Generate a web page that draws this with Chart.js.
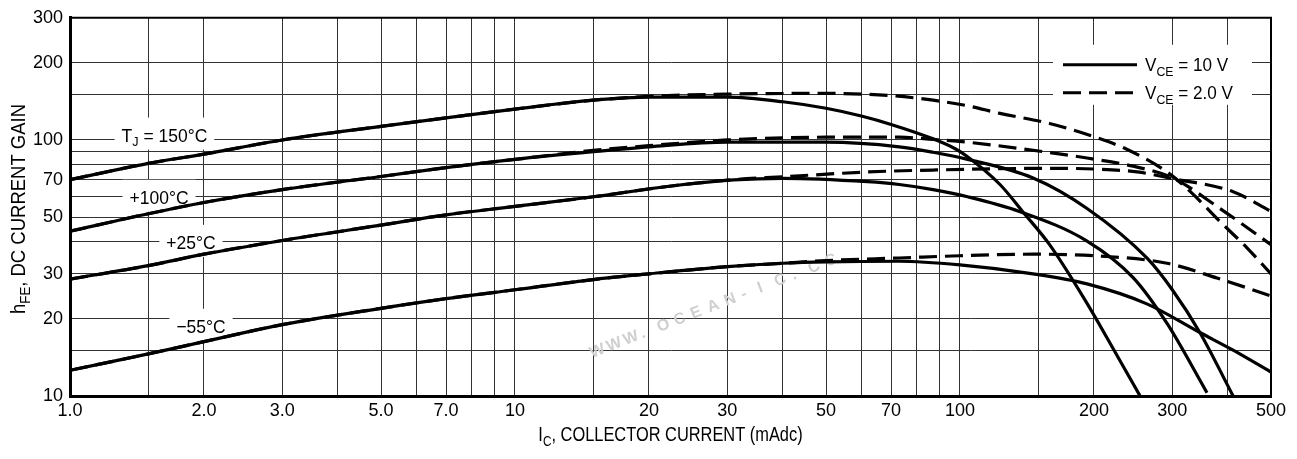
<!DOCTYPE html>
<html>
<head>
<meta charset="utf-8">
<script src="https://cdn.jsdelivr.net/npm/chart.js@4.4.1/dist/chart.umd.min.js"></script>
<style>
  html, body { margin: 0; padding: 0; background: #fff; }
  #wrap { width: 1297px; height: 459px; }
</style>
</head>
<body>
<div id="wrap"><canvas id="chart" width="1297" height="459"></canvas></div>
<script>
// DC current gain vs collector current, solid = VCE 10 V, dashed = VCE 2.0 V

// grid values and which ones carry a number
const icGrid = [1, 1.5, 2, 3, 4, 5, 6, 7, 8, 9, 10, 15, 20, 30, 40, 50, 60, 70, 80, 90, 100, 150, 200, 300, 400, 500];
const icTickValues = [1, 2, 3, 5, 7, 10, 20, 30, 50, 70, 100, 200, 300, 500];
const icTickLabels = ['1.0', '2.0', '3.0', '5.0', '7.0', '10', '20', '30', '50', '70', '100', '200', '300', '500'];
const hfeGrid = [10, 15, 20, 30, 40, 50, 60, 70, 80, 90, 100, 150, 200, 300];
const hfeTickValues = [10, 20, 30, 50, 70, 100, 200, 300];

// TJ = 150 C
const ic150_10V = [1, 1.5, 2, 3, 5, 7, 10, 15, 20, 30, 40, 50, 60, 70, 87, 98, 104, 123, 139, 159, 193, 220, 254];
const hfe150_10V = [70, 81, 88, 100, 113, 122, 132, 143, 147, 147, 141, 133, 124, 115, 101, 92, 86, 67, 52, 39, 23, 15.5, 10];
const ic150_2V = [1, 1.5, 2, 3, 5, 7, 10, 15, 20, 30, 50, 70, 87, 104, 123, 159, 200, 237, 292, 329, 384, 441, 500];
const hfe150_2V = [70, 81, 88, 100, 113, 122, 132, 143, 148, 151, 152, 149, 143, 136, 127, 116, 103, 92, 75, 63, 48, 38, 30];

// TJ = +100 C
const ic100_10V = [1, 1.5, 2, 3, 5, 7, 10, 15, 20, 30, 50, 73, 87, 104, 146, 193, 263, 300, 346, 411];
const hfe100_10V = [44, 51.5, 57, 64, 72, 78, 84, 90, 94, 98, 98, 94, 89.5, 84, 71, 54, 34.6, 26, 17.7, 10];
const ic100_2V = [1, 1.5, 2, 3, 5, 7, 10, 15, 20, 30, 50, 73, 87, 104, 154, 193, 245, 301, 384, 500];
const hfe100_2V = [44, 51.5, 57, 64, 72, 78, 84, 91, 95, 100, 102.5, 102.5, 100.5, 98, 90, 85, 79, 71, 54, 39];

// TJ = +25 C
const ic25_10V = [1, 1.5, 2, 3, 5, 7, 10, 15, 22, 31, 40, 62, 73, 87, 104, 136, 193, 245, 292, 359];
const hfe25_10V = [28.6, 32.3, 35.8, 40.5, 46.5, 51, 55, 60, 65.8, 69.8, 70.8, 68.7, 67, 64, 60, 52.6, 40.3, 29, 19.2, 10.3];
const ic25_2V = [1, 1.5, 2, 3, 5, 7, 10, 15, 22, 31, 40, 62, 87, 159, 200, 250, 301, 411, 500];
const hfe25_2V = [28.6, 32.3, 35.8, 40.5, 46.5, 51, 55, 60, 65.8, 70, 71.8, 75, 76.3, 77.5, 77, 75, 70.6, 62.8, 52.6];

// TJ = -55 C
const icM55_10V = [1, 1.5, 2, 3, 5, 7, 10, 15, 20, 30, 40, 50, 73, 100, 146, 193, 263, 346, 411, 500];
const hfeM55_10V = [12.6, 14.6, 16.3, 19, 22, 24, 26, 28.5, 30, 32, 33, 33.4, 33.6, 32.5, 30, 27.4, 22.9, 17.7, 15.1, 12.4];
const icM55_2V = [1, 1.5, 2, 3, 5, 7, 10, 15, 20, 30, 40, 50, 73, 100, 146, 206, 292, 378, 500];
const hfeM55_2V = [12.6, 14.6, 16.3, 19, 22, 24, 26, 28.5, 30, 32, 33, 33.8, 34.6, 35.3, 35.8, 35.2, 33, 28.9, 24.6];

// curve labels: text parts ([text, isSubscript]) and where they sit in data units
const curveLabels = [
    { parts: [['T'], ['J', 1], [' = 150°C']], ic: 1.63, hfe: 105 },
    { parts: [['+100°C']], ic: 1.585, hfe: 60 },
    { parts: [['+25°C']], ic: 1.87, hfe: 40 },
    { parts: [['\u221255°C']], ic: 1.97, hfe: 18.8 }
];
const legendLabels = [
    [['V'], ['CE', 1], [' = 10 V']],
    [['V'], ['CE', 1], [' = 2.0 V']]
];
const xTitle = [['I'], ['C', 1], [', COLLECTOR CURRENT (mAdc)']];
const yTitle = [['h'], ['FE', 1], [', DC CURRENT GAIN']];

const FONT = "'Liberation Sans', Arial, Helvetica, sans-serif";
const DASH = [18, 8];

function curve(label, ic, hfe, dashed) {
    return {
        label: label,
        data: ic.map((v, i) => ({ x: v, y: hfe[i] })),
        borderColor: '#000',
        borderWidth: 3.2,
        borderDash: dashed ? DASH : [],
        pointRadius: 0,
        fill: false,
        cubicInterpolationMode: 'monotone'
    };
}

// text with subscripts, squeezed horizontally by sx
function richWidth(ctx, parts, size, sx) {
    let w = 0;
    parts.forEach(([t, sub]) => {
        ctx.font = (sub ? size * 0.72 : size) + 'px ' + FONT;
        w += ctx.measureText(t).width * sx;
    });
    return w;
}

function drawRich(ctx, parts, x, baseline, size, sx) {
    let cx = x;
    parts.forEach(([t, sub]) => {
        const s = sub ? size * 0.72 : size;
        ctx.font = s + 'px ' + FONT;
        ctx.save();
        ctx.translate(cx, baseline + (sub ? size * 0.26 : 0));
        ctx.scale(sx, 1);
        ctx.fillText(t, 0, 0);
        ctx.restore();
        cx += ctx.measureText(t).width * sx;
    });
}

const decorations = {
    id: 'decorations',
    beforeDatasetsDraw(chart) {
        const { ctx, chartArea: a, scales: { x, y } } = chart;
        ctx.save();

        // top and right frame
        ctx.strokeStyle = '#000';
        ctx.lineWidth = 2;
        ctx.beginPath();
        ctx.moveTo(a.left, a.top);
        ctx.lineTo(a.right, a.top);
        ctx.lineTo(a.right, a.bottom);
        ctx.stroke();

        // faint site watermark
        ctx.save();
        ctx.fillStyle = '#cfcfcf';
        ctx.font = 'bold 16px ' + FONT;
        ctx.translate(592, 358);
        ctx.rotate(-0.37);
        const wm = 'WWW.OCEAN-IC.CC';
        for (let i = 0; i < wm.length; i++) {
            ctx.fillText(wm[i], i * 18, 0);
        }
        ctx.restore();

        // curve labels on white patches
        ctx.textBaseline = 'alphabetic';
        curveLabels.forEach(l => {
            const cx = x.getPixelForValue(l.ic);
            const cy = y.getPixelForValue(l.hfe);
            const w = richWidth(ctx, l.parts, 19, 0.92);
            ctx.fillStyle = '#fff';
            ctx.fillRect(cx - w / 2 - 7, cy - 17, w + 14, 32);
            ctx.fillStyle = '#000';
            drawRich(ctx, l.parts, cx - w / 2, cy + 7, 19, 0.92);
        });

        // legend box
        const bx0 = a.right - 218, bx1 = a.right - 19;
        ctx.fillStyle = '#fff';
        ctx.fillRect(bx0, a.top + 27, bx1 - bx0, 60);
        const rows = [a.top + 47, a.top + 75];
        rows.forEach((ry, i) => {
            ctx.strokeStyle = '#000';
            ctx.lineWidth = 3;
            ctx.setLineDash(i === 0 ? [] : DASH);
            ctx.beginPath();
            ctx.moveTo(bx0 + 10, ry);
            ctx.lineTo(bx0 + 84, ry);
            ctx.stroke();
            ctx.setLineDash([]);
            ctx.fillStyle = '#000';
            drawRich(ctx, legendLabels[i], bx0 + 92, ry + 6.5, 18, 0.95);
        });

        ctx.restore();
    },
    afterDraw(chart) {
        const { ctx, chartArea: a } = chart;
        ctx.save();
        ctx.fillStyle = '#000';
        ctx.textBaseline = 'alphabetic';
        const size = 20, sx = 0.82;
        const wx = richWidth(ctx, xTitle, size, sx);
        drawRich(ctx, xTitle, (a.left + a.right) / 2 - wx / 2, 441, size, sx);

        const ys = 21, ysx = 0.88;
        const wy = richWidth(ctx, yTitle, ys, ysx);
        ctx.translate(25, 209);
        ctx.rotate(-Math.PI / 2);
        drawRich(ctx, yTitle, -wy / 2, 0, ys, ysx);
        ctx.restore();
    }
};

const ctx = document.getElementById('chart').getContext('2d');
new Chart(ctx, {
    type: 'line',
    data: {
        datasets: [
            curve('150 C, 10 V', ic150_10V, hfe150_10V, false),
            curve('150 C, 2.0 V', ic150_2V, hfe150_2V, true),
            curve('+100 C, 10 V', ic100_10V, hfe100_10V, false),
            curve('+100 C, 2.0 V', ic100_2V, hfe100_2V, true),
            curve('+25 C, 10 V', ic25_10V, hfe25_10V, false),
            curve('+25 C, 2.0 V', ic25_2V, hfe25_2V, true),
            curve('-55 C, 10 V', icM55_10V, hfeM55_10V, false),
            curve('-55 C, 2.0 V', icM55_2V, hfeM55_2V, true)
        ]
    },
    options: {
        responsive: false,
        animation: false,
        devicePixelRatio: 1,
        layout: { padding: { top: 13, right: 26, left: 0, bottom: 0 } },
        plugins: {
            legend: { display: false },
            tooltip: { enabled: false }
        },
        scales: {
            x: {
                type: 'logarithmic',
                min: 1,
                max: 500,
                afterBuildTicks: (scale) => { scale.ticks = icGrid.map(v => ({ value: v })); },
                afterFit: (scale) => { scale.height = 63; },
                ticks: {
                    autoSkip: false,
                    maxRotation: 0,
                    minRotation: 0,
                    padding: 4,
                    color: '#000',
                    font: { family: FONT, size: 18 },
                    callback: (v) => {
                        const i = icTickValues.indexOf(v);
                        return i >= 0 ? icTickLabels[i] : '';
                    }
                },
                grid: { color: '#333', lineWidth: 1, drawTicks: false },
                border: { color: '#000', width: 3 }
            },
            y: {
                type: 'logarithmic',
                min: 10,
                max: 300,
                afterBuildTicks: (scale) => { scale.ticks = hfeGrid.map(v => ({ value: v })); },
                afterFit: (scale) => { scale.width = 70; },
                ticks: {
                    autoSkip: false,
                    padding: 7,
                    color: '#000',
                    font: { family: FONT, size: 18 },
                    callback: (v) => hfeTickValues.includes(v) ? String(v) : ''
                },
                grid: { color: '#333', lineWidth: 1, drawTicks: false },
                border: { color: '#000', width: 3 }
            }
        }
    },
    plugins: [decorations]
});
</script>
</body>
</html>
